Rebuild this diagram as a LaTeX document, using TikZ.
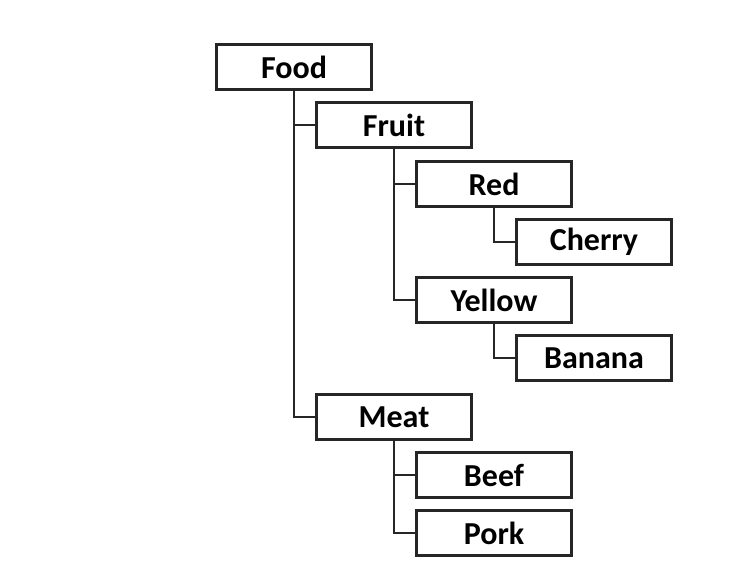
\documentclass[tikz,border=0pt]{standalone}
\usepackage{fontspec}
\setmainfont{Carlito}
\begin{document}
\begin{tikzpicture}[x=0.75pt,y=-0.75pt,
  box/.style={draw=black!85,line width=1.9pt,minimum width=116.5pt,minimum height=33.5pt,inner sep=0pt,font=\fontsize{24}{26}\selectfont\bfseries,fill=white},
  link/.style={draw=black!85,line width=1.9pt}]
\useasboundingbox[fill=white] (0,0) rectangle (748,580);
\node[box] (food) at (294,67) {Food};
\node[box] (fruit) at (394,125) {Fruit};
\node[box] (red) at (494,184) {Red};
\node[box] (cherry) at (594,242) {Cherry};
\node[box] (yellow) at (494,300) {Yellow};
\node[box] (banana) at (594,358) {Banana};
\node[box] (meat) at (394,417) {Meat};
\node[box] (beef) at (494,475) {Beef};
\node[box] (pork) at (494,533) {Pork};
\draw[link] (food.south) |- (fruit.west);
\draw[link] (food.south) |- (meat.west);
\draw[link] (fruit.south) |- (red.west);
\draw[link] (fruit.south) |- (yellow.west);
\draw[link] (red.south) |- (cherry.west);
\draw[link] (yellow.south) |- (banana.west);
\draw[link] (meat.south) |- (beef.west);
\draw[link] (meat.south) |- (pork.west);
\end{tikzpicture}
\end{document}
